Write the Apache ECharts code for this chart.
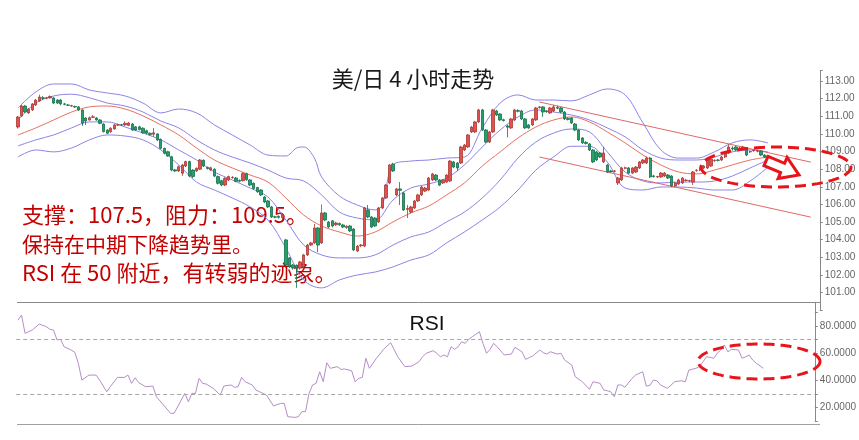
<!DOCTYPE html>
<html><head><meta charset="utf-8">
<script src="https://cdn.jsdelivr.net/npm/echarts@6/dist/echarts.min.js"></script>
<style>html,body{margin:0;padding:0;background:#fff}#c{width:859px;height:440px}</style>
</head><body><div id="c"></div>
<script>
// ---- candle data (USD/JPY 4H) ----
const open = [
110.39,111.02,111.58,111.19,111.36,111.64,111.87,112.05,112.02,112.04,
112.04,111.92,111.92,111.70,111.64,111.58,111.55,111.53,111.36,110.90,
110.79,110.94,110.90,110.79,110.56,110.22,110.13,110.28,110.50,110.52,
110.51,110.48,110.56,110.40,110.40,110.32,110.18,110.04,109.98,110.00,
109.69,109.18,108.99,108.71,107.96,107.90,107.77,108.18,108.43,107.95,
107.90,108.00,108.50,108.10,107.96,108.00,107.58,107.35,107.10,107.39,
107.52,107.50,107.36,107.35,107.74,107.39,107.20,106.96,106.82,106.42,
106.20,105.86,105.30,105.33,105.25,103.99,102.97,102.57,102.55,102.40,
102.45,103.14,103.70,103.82,104.67,103.82,105.52,105.01,105.07,104.85,
104.92,104.84,104.70,104.78,104.61,103.36,103.66,103.64,105.69,105.29,
105.23,105.01,105.80,106.37,107.22,108.29,106.54,106.88,106.65,105.72,
105.57,105.80,106.20,106.54,106.76,106.82,107.39,107.67,107.39,107.22,
107.27,107.33,108.41,108.35,108.35,109.09,109.26,110.11,110.11,110.68,
111.36,110.22,109.54,110.11,111.30,111.13,110.80,110.45,110.34,110.79,
111.32,111.30,110.85,110.51,110.51,110.79,111.50,111.53,111.28,111.19,
111.30,111.49,111.47,111.24,110.88,110.90,110.56,110.22,109.77,109.52,
109.43,109.09,108.98,108.92,108.41,108.24,107.90,107.88,107.22,107.39,
108.05,108.07,107.78,107.84,108.07,108.35,108.35,108.63,107.62,107.56,
107.56,107.61,107.67,107.61,107.05,107.16,107.22,107.36,107.33,107.27,
107.92,107.95,108.07,108.07,108.18,108.48,108.52,108.52,108.69,108.92,
109.20,109.26,109.18,109.18,109.20,108.98,109.05,109.02,109.03,108.80,
108.75];
const close = [
110.96,111.58,111.24,111.41,111.70,111.92,112.09,112.02,112.04,112.12,
111.75,111.75,111.70,111.68,111.62,111.60,111.53,111.36,110.62,110.73,
110.92,110.97,110.79,110.60,110.13,110.04,110.32,110.51,110.52,110.50,
110.60,110.62,110.22,110.22,110.25,110.06,110.04,109.96,110.06,109.66,
109.18,108.90,108.75,107.95,107.90,108.14,108.24,108.43,107.61,107.58,
108.05,108.52,108.18,108.04,108.08,107.61,107.20,107.10,107.48,107.58,
107.54,107.31,107.32,107.76,107.40,107.10,106.90,106.72,106.54,106.14,
105.86,105.29,105.28,105.27,105.40,102.57,102.46,102.40,102.40,102.74,
103.14,103.70,103.82,104.67,103.70,105.52,105.12,104.72,104.78,104.95,
104.85,104.72,104.76,104.50,103.42,103.64,103.70,105.80,105.29,104.72,
104.78,105.80,106.37,107.10,108.24,107.90,106.88,106.80,105.69,105.78,
105.86,106.20,106.54,106.99,106.93,107.50,107.73,107.39,107.10,107.39,
107.67,108.46,108.12,108.07,109.26,109.37,109.94,110.39,110.68,111.36,
110.22,109.54,110.11,111.36,111.07,110.79,110.76,110.38,110.85,111.36,
111.28,110.85,110.34,110.34,110.85,111.47,111.53,111.24,111.26,111.47,
111.53,111.46,111.24,110.85,110.82,110.62,110.22,109.66,109.49,109.46,
109.09,108.41,108.52,108.69,108.92,107.84,107.86,107.90,107.50,108.07,
108.08,107.78,108.07,108.12,108.41,108.52,108.63,107.56,107.58,107.58,
107.78,107.78,107.50,107.05,107.22,107.39,107.50,107.38,107.35,107.84,
107.94,108.07,108.18,108.52,108.58,108.50,108.50,108.69,108.92,109.26,
109.15,109.09,109.20,109.26,108.80,109.00,109.07,109.04,108.80,108.69,
108.63];
const low = [
110.30,110.95,111.18,111.13,111.30,111.58,111.81,111.92,111.96,112.00,
111.70,111.70,111.62,111.62,111.58,111.53,111.47,111.30,110.45,110.50,
110.75,110.90,110.75,110.55,110.08,109.98,110.05,110.24,110.45,110.46,
110.46,110.44,110.18,110.16,110.20,110.00,109.98,109.90,109.84,109.60,
109.12,108.84,108.70,107.88,107.84,107.84,107.62,108.12,107.55,107.50,
107.85,107.95,108.12,107.98,107.90,107.55,107.14,107.04,107.04,107.33,
107.46,107.26,107.26,107.30,107.34,107.04,106.84,106.66,106.48,106.08,
105.80,105.23,105.22,105.20,105.18,102.40,102.40,102.30,101.27,102.30,
102.38,103.08,103.64,103.76,103.30,103.76,105.05,104.66,104.70,104.78,
104.78,104.66,104.62,104.44,103.36,103.30,103.58,103.58,105.22,104.66,
104.72,104.95,105.74,106.31,107.16,107.84,106.48,105.97,105.63,105.23,
105.50,105.74,106.14,106.48,106.70,106.76,107.33,107.33,107.04,107.16,
107.22,107.27,108.06,107.90,108.29,109.03,109.20,110.05,110.05,110.62,
110.16,109.48,109.48,110.05,111.01,110.73,110.70,109.80,110.28,110.73,
111.22,110.79,110.28,110.28,110.45,110.73,111.44,110.96,111.20,111.13,
111.24,111.40,111.18,110.79,110.76,110.56,110.16,109.60,109.43,109.40,
109.03,108.35,108.46,108.63,108.35,107.78,107.80,107.82,107.10,107.33,
107.99,107.72,107.72,107.78,108.01,108.29,108.29,107.50,107.52,107.50,
107.50,107.55,107.44,106.99,106.99,107.10,107.16,107.30,107.27,107.10,
107.86,107.89,108.01,108.01,108.12,108.42,108.44,108.46,108.63,108.86,
109.05,109.03,109.12,109.12,108.74,108.92,108.99,108.96,108.74,108.63,
108.57];
const high = [
111.02,111.65,111.64,111.47,111.75,111.98,112.22,112.15,112.10,112.18,
112.08,111.98,111.98,111.76,111.70,111.65,111.60,111.58,111.40,110.95,
110.98,111.07,110.95,110.84,110.60,110.27,110.38,110.56,110.58,110.57,
110.72,110.68,110.62,110.45,110.46,110.38,110.24,110.08,110.33,110.04,
109.74,109.22,109.04,108.76,108.02,108.20,108.30,108.48,108.48,108.00,
108.10,108.58,108.56,108.15,108.14,108.05,107.64,107.40,107.54,107.64,
107.60,107.56,107.42,107.82,107.80,107.44,107.25,107.00,106.86,106.48,
106.26,105.92,105.36,105.38,105.46,104.05,103.02,102.62,102.60,102.80,
103.20,103.76,103.88,104.90,104.72,106.00,105.58,105.06,105.12,105.02,
104.98,104.90,104.82,104.84,104.66,103.70,103.76,105.86,105.97,105.34,
105.28,105.86,106.42,107.16,108.30,108.36,106.94,107.27,106.72,105.97,
105.92,106.26,106.60,107.05,107.00,107.56,107.79,107.72,107.44,107.44,
107.72,108.52,108.46,108.40,109.32,109.43,110.00,110.45,110.74,111.42,
111.42,110.28,110.17,111.42,111.36,111.18,110.86,110.52,110.90,111.42,
111.40,111.36,110.90,110.56,110.90,111.53,111.58,111.58,111.34,111.53,
111.64,111.60,111.53,111.30,110.94,110.95,110.62,110.28,109.82,109.58,
109.48,109.14,109.04,108.98,109.27,108.30,107.96,107.96,107.56,108.13,
108.14,108.12,108.12,108.18,108.46,108.58,108.72,108.69,107.68,107.62,
107.84,107.84,107.72,107.66,107.28,107.45,107.56,107.44,107.40,107.90,
108.00,108.12,108.24,108.58,108.64,108.56,108.58,108.75,108.98,109.40,
109.30,109.32,109.26,109.32,109.26,109.06,109.12,109.10,109.08,108.85,
108.80];

// ---- indicator lines: [candle index, price] ----
const bbUpper2 = [[0,111.47],[5,112.38],[10,112.83],[15,112.83],[20,112.49],[25,112.32],[30,112.15],[35,111.75],[40,111.19],[45,111.41],[50,111.19],[55,110.51],[60,109.94],[65,109.37],[70,108.80],[75,108.75],[78,109.20],[80,109.26],[83,108.63],[85,107.56],[90,106.48],[95,105.97],[100,105.69],[102,105.97],[105,108.24],[110,108.46],[115,108.52],[120,108.63],[125,108.69],[130,110.34],[135,111.75],[140,112.21],[145,111.92],[150,111.92],[155,111.87],[160,112.21],[165,112.55],[170,112.21],[175,110.62],[180,109.09],[185,108.63],[190,108.63],[195,108.98],[200,109.49],[205,109.66],[210,109.49]];
const bbUpper1 = [[0,110.79],[5,111.75],[10,112.15],[15,112.25],[20,112.05],[25,111.75],[30,111.58],[35,111.24],[40,110.73],[45,110.34],[50,109.66],[55,109.09],[60,108.69],[65,108.35],[70,107.95],[75,107.50],[80,107.33],[85,106.54],[90,105.57],[95,105.23],[100,105.12],[105,106.25],[110,106.93],[115,107.16],[120,107.50],[125,108.24],[130,109.26],[135,110.22],[140,110.96],[145,111.36],[150,111.24],[155,111.07],[160,110.79],[165,110.34],[170,109.83],[175,109.09],[180,108.63],[185,108.52],[190,108.52],[195,108.69],[200,108.98],[205,109.09],[210,108.98]];
const maLine = [[0,109.94],[5,110.34],[10,110.79],[15,111.24],[20,111.53],[25,111.58],[30,111.41],[35,111.02],[40,110.51],[45,109.94],[50,109.20],[55,108.52],[60,108.07],[65,107.67],[70,107.27],[75,106.37],[80,105.40],[85,104.78],[90,104.44],[95,104.21],[100,104.44],[105,105.01],[110,105.52],[115,105.91],[120,106.54],[125,107.22],[130,108.18],[135,108.98],[140,109.77],[145,110.39],[150,110.79],[155,110.96],[160,110.68],[165,110.11],[170,109.49],[175,108.80],[180,108.24],[185,107.84],[190,107.73],[195,107.95],[200,108.24],[205,108.52],[210,108.69]];
const bbLower1 = [[0,109.32],[5,109.66],[10,109.94],[15,110.34],[20,110.68],[25,110.68],[30,110.39],[35,110.05],[40,109.66],[45,109.09],[50,108.52],[55,107.84],[60,107.39],[65,106.93],[70,106.42],[75,105.12],[80,103.70],[85,103.14],[90,102.97],[95,102.97],[100,103.14],[105,103.70],[110,104.16],[115,104.44],[120,105.01],[125,105.57],[130,106.37],[135,107.39],[140,108.63],[145,109.54],[150,110.05],[155,110.28],[160,110.11],[165,108.98],[170,107.84],[175,107.33],[180,107.22],[185,107.27],[190,107.27],[195,107.33],[200,107.61],[205,108.07],[210,108.52]];
const bbLower2 = [[0,108.69],[5,109.09],[10,108.98],[15,109.20],[20,109.66],[25,109.94],[30,109.88],[35,109.66],[40,109.09],[45,108.24],[50,107.27],[55,106.82],[60,106.37],[65,105.86],[70,105.12],[75,103.53],[80,101.72],[85,101.27],[90,101.72],[95,102.00],[100,102.17],[105,102.46],[110,102.85],[115,103.14],[120,103.82],[125,104.44],[130,105.12],[135,105.86],[140,106.82],[145,107.95],[150,108.70],[155,109.30],[160,109.30],[165,108.41],[170,106.93],[175,106.82],[180,106.99],[185,106.99],[190,106.93],[195,106.82],[200,106.82],[205,107.33],[210,108.12]];
const channelTop = [[146,111.81],[222,108.40]];
const channelBottom = [[146,108.69],[222,105.28]];

// ---- RSI: [candle index, value] ----
const rsi = [[0,84.4],[1,88.1],[2,74.6],[4,77.0],[6,81.5],[8,79.5],[9,77.6],[10,77.0],[11,69.7],[12,70.2],[13,64.7],[15,62.3],[16,60.6],[17,52.5],[18,40.1],[20,43.8],[22,43.8],[23,40.1],[25,31.5],[26,35.2],[28,42.1],[30,42.1],[31,43.8],[32,37.7],[33,41.8],[34,38.2],[36,35.2],[38,35.7],[39,27.8],[41,21.7],[43,15.6],[44,15.6],[46,25.4],[47,30.3],[48,24.1],[49,30.3],[50,30.3],[51,41.4],[52,37.7],[53,37.2],[55,34.0],[57,29.1],[58,35.7],[60,36.5],[61,34.8],[62,35.2],[63,42.1],[64,38.9],[66,36.5],[67,32.8],[70,29.1],[72,21.0],[74,22.9],[75,22.9],[76,13.1],[78,12.6],[79,13.1],[80,16.8],[81,16.8],[82,30.3],[83,36.5],[84,37.7],[85,46.3],[86,38.9],[87,52.9],[88,48.8],[90,50.0],[91,48.0],[92,48.3],[94,47.0],[95,38.9],[96,41.4],[97,42.1],[98,56.2],[99,48.8],[101,56.2],[103,62.8],[105,67.7],[107,57.3],[109,50.0],[111,50.5],[113,53.7],[114,57.3],[115,59.9],[117,61.8],[118,59.9],[119,57.3],[120,58.6],[121,57.3],[122,64.7],[123,62.8],[124,64.7],[125,68.4],[126,67.2],[127,70.2],[128,72.1],[129,73.9],[130,75.8],[131,67.2],[132,59.9],[133,62.8],[134,67.2],[135,64.7],[137,58.6],[139,59.3],[140,64.3],[142,61.0],[143,55.4],[145,57.9],[147,62.3],[148,60.3],[149,59.3],[150,61.0],[152,59.3],[153,59.9],[154,54.9],[156,51.2],[157,42.6],[159,38.9],[161,33.3],[162,38.9],[164,37.7],[165,32.8],[166,32.3],[167,31.5],[168,27.8],[169,36.5],[170,36.5],[171,34.8],[173,41.4],[174,43.8],[176,46.3],[177,35.7],[178,36.2],[179,40.1],[180,39.6],[181,36.5],[183,34.0],[185,38.9],[187,39.6],[188,38.9],[189,47.5],[191,48.8],[192,50.0],[193,53.7],[194,57.3],[195,56.9],[196,56.2],[197,59.9],[198,62.3],[199,66.0],[200,61.0],[201,62.8],[203,62.3],[204,56.2],[205,57.3],[206,58.6],[207,54.9],[208,52.5],[210,48.8]];
const rsiLevels = [70, 30];

const priceTicks = [101,102,103,104,105,106,107,108,109,110,111,112,113];
const rsiTicks = [20,40,60,80];

const titleText = '美/日 4 小时走势';
const noteLines = ['支撑：107.5，阻力：109.5。', '保持在中期下降趋势里。', 'RSI 在 50 附近，有转弱的迹象。'];

// ---- build ----
const SLOTS = 225;
const cats = Array.from({length: SLOTS}, (_, i) => String(i));
const candles = open.map((o, i) => [o, close[i], low[i], high[i]]);

const GL = 16.2, GW = 803.6;
const chart = echarts.init(document.getElementById('c'), null, {renderer: 'canvas', width: 859, height: 440});

function ellipse(cx, cy, rx, ry) {
  const pts = [];
  for (let k = 0; k < 96; k++) { const a = k / 96 * Math.PI * 2; pts.push([cx + rx * Math.cos(a), cy + ry * Math.sin(a)]); }
  return pts;
}
const RED = '#e8141b';
const bandStyle = {color: '#8c84e6', width: 1};
function band(data, style) {
  return {type: 'line', xAxisIndex: 0, yAxisIndex: 0, data, smooth: 0.35, showSymbol: false, symbol: 'none', silent: true, lineStyle: style, z: 1};
}
const lblFont = {fontSize: 10, color: '#666', fontFamily: 'Liberation Sans, Arial, sans-serif'};
const noteFont = '"Noto Sans CJK SC", sans-serif';

chart.setOption({
  animation: false,
  backgroundColor: '#fff',
  grid: [
    {left: GL, width: GW, top: 70.4, height: 239.9},
    {left: GL, width: GW, top: 302.3, height: 118.6}
  ],
  xAxis: [
    {type: 'category', gridIndex: 0, data: cats, boundaryGap: true, show: false},
    {type: 'category', gridIndex: 1, data: cats, boundaryGap: true, show: false}
  ],
  yAxis: [
    {type: 'value', gridIndex: 0, position: 'right', min: 100, max: 113.6, interval: 1,
     axisLine: {show: true, lineStyle: {color: '#8a8a8a'}},
     axisTick: {show: true, length: 3, lineStyle: {color: '#8a8a8a'}},
     splitLine: {show: false},
     axisLabel: Object.assign({margin: 5, formatter: v => priceTicks.includes(Math.round(v * 100) / 100) ? v.toFixed(2) : ''}, lblFont)},
    {type: 'value', gridIndex: 1, position: 'right', min: 10, max: 97.5, interval: 10,
     axisLine: {show: true, lineStyle: {color: '#8a8a8a'}},
     axisTick: {show: true, length: 3, lineStyle: {color: '#8a8a8a'}},
     splitLine: {show: false},
     axisLabel: Object.assign({margin: 5, formatter: v => rsiTicks.includes(Math.round(v)) && Math.abs(v - Math.round(v)) < 1e-6 ? v.toFixed(4) : ''}, lblFont)}
  ],
  series: [
    band(bbUpper2, bandStyle),
    band(bbUpper1, bandStyle),
    band(bbLower1, bandStyle),
    band(bbLower2, bandStyle),
    band(maLine, {color: '#e8705e', width: 1}),
    {type: 'line', xAxisIndex: 0, yAxisIndex: 0, data: channelTop, showSymbol: false, symbol: 'none', silent: true, lineStyle: {color: '#e06868', width: 1}, z: 1},
    {type: 'line', xAxisIndex: 0, yAxisIndex: 0, data: channelBottom, showSymbol: false, symbol: 'none', silent: true, lineStyle: {color: '#e06868', width: 1}, z: 1},
    {type: 'candlestick', xAxisIndex: 0, yAxisIndex: 0, data: candles, barWidth: 2.8, z: 3,
     itemStyle: {color: '#e0524e', color0: '#23a06c', borderColor: '#a83a36', borderColor0: '#17704a', borderWidth: 0.8}},
    {type: 'line', xAxisIndex: 1, yAxisIndex: 1, data: rsi, showSymbol: false, symbol: 'none', silent: true,
     lineStyle: {color: '#b58ec8', width: 1},
     markLine: {silent: true, symbol: ['none', 'none'], label: {show: false},
       lineStyle: {type: [4, 3], color: '#a8a8a8', width: 1},
       data: rsiLevels.map(v => ({yAxis: v}))}}
  ],
  graphic: [
    {type: 'line', shape: {x1: 17, y1: 302.5, x2: 820, y2: 302.5}, style: {stroke: '#8a8a8a', lineWidth: 1}, silent: true},
    {type: 'line', shape: {x1: 17, y1: 424.5, x2: 820, y2: 424.5}, style: {stroke: '#a0a0a0', lineWidth: 1}, silent: true},
    {type: 'text', x: 413, y: 79, style: {text: titleText, font: '22px ' + noteFont, fill: '#1a1a1a', textAlign: 'center', textVerticalAlign: 'middle', verticalAlign: 'middle'}, silent: true},
    {type: 'text', x: 22, y: 215, style: {text: noteLines[0], font: '22px ' + noteFont, fill: '#c40000', textAlign: 'left', textVerticalAlign: 'middle', verticalAlign: 'middle'}, silent: true},
    {type: 'text', x: 22, y: 244, style: {text: noteLines[1], font: '21px ' + noteFont, fill: '#c40000', textAlign: 'left', textVerticalAlign: 'middle', verticalAlign: 'middle'}, silent: true},
    {type: 'text', x: 22, y: 273, style: {text: noteLines[2], font: '22px ' + noteFont, fill: '#c40000', textAlign: 'left', textVerticalAlign: 'middle', verticalAlign: 'middle'}, silent: true},
    {type: 'text', x: 427, y: 324, style: {text: 'RSI', font: '21px "Liberation Sans", Arial, sans-serif', fill: '#111', textAlign: 'center', textVerticalAlign: 'middle', verticalAlign: 'middle'}, silent: true},
    {type: 'polygon', shape: {points: ellipse(776, 167, 75, 20)}, style: {fill: 'none', stroke: RED, lineWidth: 3, lineDash: [11, 6]}, silent: true, z: 100},
    {type: 'polygon', shape: {points: [[768.0,156.4],[784.6,163.4],[787.1,157.4],[799,175],[778.1,178.6],[780.6,172.6],[764.0,165.6]]}, style: {fill: '#fff', stroke: RED, lineWidth: 3, lineJoin: 'miter'}, silent: true, z: 101},
    {type: 'polygon', shape: {points: ellipse(759, 361.5, 61, 17.5)}, style: {fill: 'none', stroke: RED, lineWidth: 3, lineDash: [11, 6]}, silent: true, z: 100}
  ]
});
</script></body></html>
